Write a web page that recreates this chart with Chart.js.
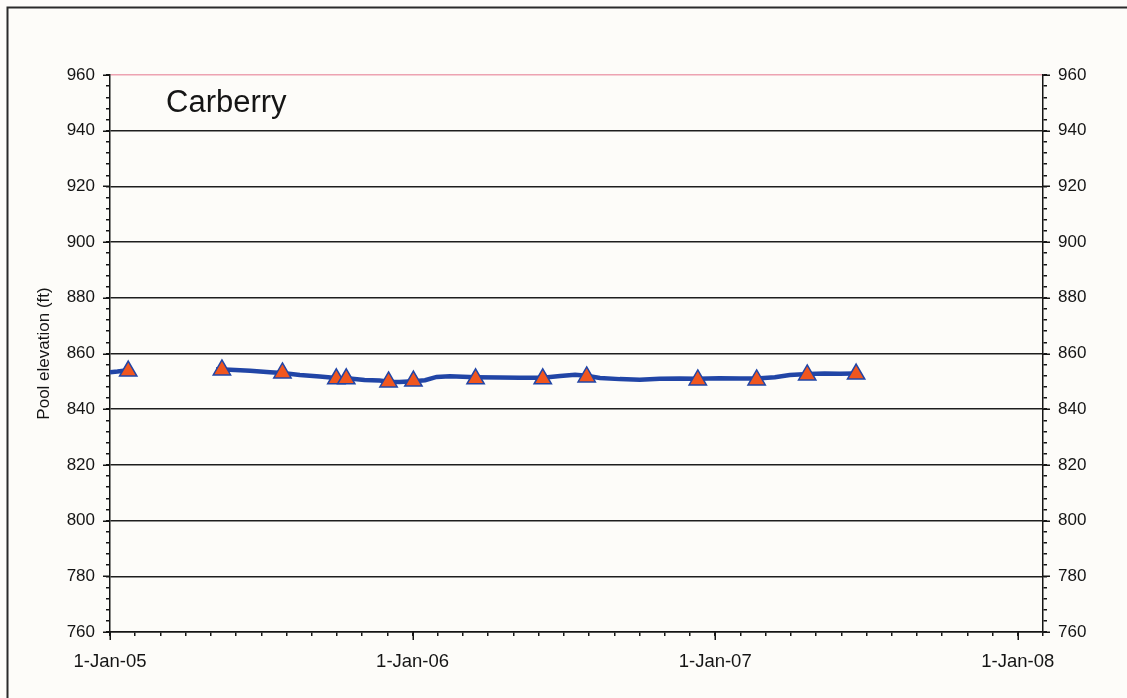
<!DOCTYPE html>
<html>
<head>
<meta charset="utf-8">
<title>Carberry pool elevation</title>
<script src="https://cdn.jsdelivr.net/npm/chart.js@4/dist/chart.umd.min.js"></script>
<style>
  html, body { margin: 0; padding: 0; background: #fdfcf9; }
  #wrap { width: 1127px; height: 698px; position: relative; }
</style>
</head>
<body>
<div id="wrap"><canvas id="c" width="1127" height="698"></canvas></div>
<script>
// Continuous pool record (ft); null marks the missing stretch of record
const lineDates = [
  '2005-01-01', '2005-01-10', '2005-01-20', '2005-01-27', '2005-03-15',
  '2005-05-09', '2005-05-26', '2005-06-19', '2005-07-13', '2005-07-28',
  '2005-08-18', '2005-09-11', '2005-10-01', '2005-10-17', '2005-11-04',
  '2005-11-22', '2005-12-04', '2005-12-16', '2006-01-02', '2006-01-16',
  '2006-01-30', '2006-02-15', '2006-03-18', '2006-04-16', '2006-05-10',
  '2006-06-07', '2006-06-28', '2006-07-16', '2006-07-30', '2006-08-15',
  '2006-09-08', '2006-10-02', '2006-10-26', '2006-11-19', '2006-12-11',
  '2007-01-06', '2007-01-31', '2007-02-20', '2007-03-14', '2007-04-01',
  '2007-04-23', '2007-05-13', '2007-05-31', '2007-06-18'
];
const lineLevels = [
  853.3, 853.5, 853.9, 854.1, null,
  854.3, 854.2, 853.8, 853.3, 853.0,
  852.3, 851.7, 851.2, 851.0, 850.5,
  850.3, 849.9, 849.8, 850.0, 850.4,
  851.6, 851.8, 851.5, 851.4, 851.3,
  851.3, 851.9, 852.4, 852.0, 851.2,
  850.8, 850.6, 850.9, 851.0, 850.9,
  851.1, 851.0, 851.0, 851.5, 852.3,
  852.6, 852.8, 852.7, 852.8
];

// Survey readings (triangles)
const markerDates = [
  '2005-01-23', '2005-05-16', '2005-07-28', '2005-10-01', '2005-10-13',
  '2005-12-03', '2006-01-02', '2006-03-18', '2006-06-07', '2006-07-30',
  '2006-12-11', '2007-02-20', '2007-04-22', '2007-06-20'
];
const markerLevels = [
  853.7, 854.1, 853.0, 850.9, 850.9,
  849.8, 850.1, 850.9, 850.9, 851.6,
  850.5, 850.5, 852.3, 852.6
];

// Axis labels
const xTickLabels = ['1-Jan-05', '1-Jan-06', '1-Jan-07', '1-Jan-08'];
const yMin = 760, yMax = 960, yMajorStep = 20, yMinorStep = 4;
const siteName = 'Carberry';
const yTitle = 'Pool elevation (ft)';

// Day counts from 1-Jan-05 drive the x axis
const origin = Date.UTC(2005, 0, 1);
function dayOf(s) {
  const p = s.split('-').map(Number);
  return (Date.UTC(p[0], p[1] - 1, p[2]) - origin) / 86400000;
}
const MONTH = 365 / 12;
const xMax = 37 * MONTH;

const linePts = lineDates.map((d, i) => ({ x: dayOf(d), y: lineLevels[i] }));
const markerPts = markerDates.map((d, i) => ({ x: dayOf(d), y: markerLevels[i] }));

const FAMILY = "'Liberation Sans', Arial, sans-serif";
const FONT = { family: FAMILY, size: 17 };
const XFONT = { family: FAMILY, size: 18.5 };
const INK = '#151515';
const BLUE = '#2145a6';

function yTickList() {
  const t = [];
  for (let v = yMin; v <= yMax; v += yMinorStep) t.push({ value: v });
  return t;
}
function yLabel(v) { return v % yMajorStep === 0 ? String(v) : ''; }

const decor = {
  id: 'decor',
  beforeDraw(chart) {
    const c = chart.ctx;
    c.save();
    c.fillStyle = '#fdfcf9';
    c.fillRect(0, 0, chart.width, chart.height);
    // outer frame
    c.strokeStyle = '#2a2a2a';
    c.lineWidth = 2;
    c.beginPath();
    c.moveTo(7.5, chart.height);
    c.lineTo(7.5, 7.5);
    c.lineTo(chart.width, 7.5);
    c.stroke();
    c.restore();
  },
  afterDraw(chart) {
    // Longer tick marks at the major divisions of each axis
    const c = chart.ctx;
    const { x, y, y2 } = chart.scales;
    c.save();
    c.strokeStyle = INK;
    c.lineWidth = 1.5;
    c.beginPath();
    for (let k = 0; k <= 3; k++) {
      const px = Math.round(x.getPixelForValue(k * 365)) + 0.25;
      c.moveTo(px, x.top);
      c.lineTo(px, x.top + 8);
    }
    for (let v = yMin; v <= yMax; v += yMajorStep) {
      const py = Math.round(y.getPixelForValue(v)) + 0.25;
      c.moveTo(y.right, py);
      c.lineTo(y.right - 7, py);
      c.moveTo(y2.left, py);
      c.lineTo(y2.left + 7, py);
    }
    c.stroke();
    c.restore();
  },
  afterDatasetsDraw(chart) {
    const c = chart.ctx;
    c.save();
    c.fillStyle = INK;
    c.font = "31px " + FAMILY;
    c.textBaseline = 'alphabetic';
    c.fillText(siteName, 166, 112);
    c.restore();
  }
};

new Chart(document.getElementById('c'), {
  type: 'scatter',
  data: {
    datasets: [
      {
        label: 'Survey',
        data: markerPts,
        showLine: false,
        pointStyle: 'triangle',
        pointRadius: 10,
        pointHoverRadius: 10,
        backgroundColor: '#f0561f',
        borderColor: BLUE,
        borderWidth: 1.5,
        order: 0
      },
      {
        label: 'Pool',
        data: linePts,
        showLine: true,
        spanGaps: false,
        borderColor: BLUE,
        borderWidth: 4.5,
        pointRadius: 0,
        tension: 0,
        order: 1
      }
    ]
  },
  options: {
    responsive: false,
    animation: false,
    events: [],
    layout: { padding: { left: 30, right: 0, top: 75, bottom: 14 } },
    plugins: { legend: { display: false }, tooltip: { enabled: false } },
    scales: {
      x: {
        type: 'linear',
        min: 0,
        max: xMax,
        afterBuildTicks(s) {
          const t = [];
          for (let k = 0; k <= 37; k++) t.push({ value: k * MONTH });
          s.ticks = t;
        },
        afterFit(s) { s.height = 52; },
        ticks: {
          autoSkip: false,
          maxRotation: 0,
          padding: 15,
          color: INK,
          font: XFONT,
          callback(v) {
            const k = Math.round(v / MONTH);
            return k % 12 === 0 ? xTickLabels[k / 12] : '';
          }
        },
        grid: {
          drawOnChartArea: false,
          tickLength: 4,
          tickColor: INK,
          lineWidth: 1.5
        },
        border: { display: true, color: INK, width: 1.5 }
      },
      y: {
        position: 'left',
        min: yMin,
        max: yMax,
        afterBuildTicks(s) { s.ticks = yTickList(); },
        afterFit(s) { s.width = 80; },
        ticks: {
          autoSkip: false,
          padding: 11,
          color: INK,
          font: FONT,
          callback: yLabel
        },
        title: {
          display: true,
          text: yTitle,
          color: INK,
          font: FONT,
          padding: { top: 4, bottom: 0 }
        },
        grid: {
          tickLength: 4,
          tickColor: INK,
          lineWidth: 1.5,
          color(ctx) {
            const v = ctx.tick && ctx.tick.value;
            if (v === yMax) return 'rgba(232,140,160,0.8)';
            return v % yMajorStep === 0 ? '#1e1e1e' : 'rgba(0,0,0,0)';
          }
        },
        border: { display: true, color: INK, width: 1.5 }
      },
      y2: {
        position: 'right',
        min: yMin,
        max: yMax,
        afterBuildTicks(s) { s.ticks = yTickList(); },
        afterFit(s) { s.width = 84; },
        ticks: {
          autoSkip: false,
          padding: 11,
          color: INK,
          font: FONT,
          callback: yLabel
        },
        grid: {
          drawOnChartArea: false,
          tickLength: 4,
          tickColor: INK,
          lineWidth: 1.5
        },
        border: { display: true, color: INK, width: 1.5 }
      }
    }
  },
  plugins: [decor]
});
</script>
</body>
</html>
